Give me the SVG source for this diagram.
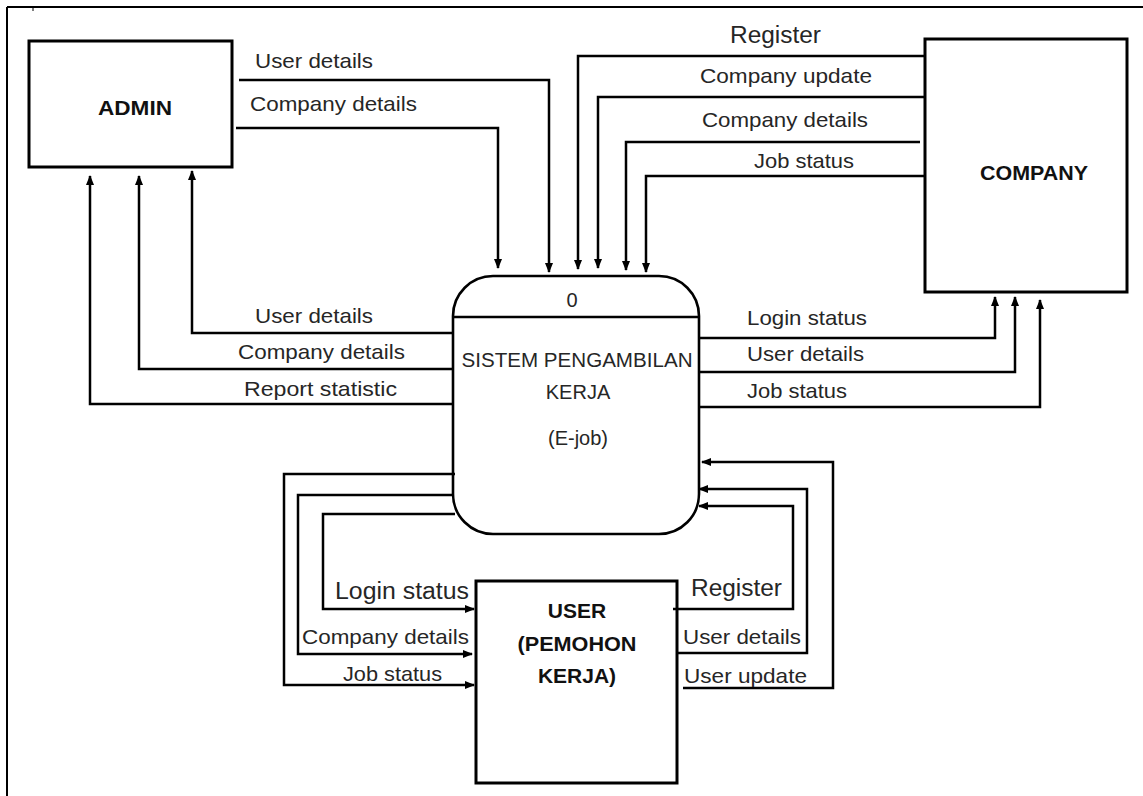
<svg xmlns="http://www.w3.org/2000/svg" width="1143" height="796" viewBox="0 0 1143 796">
<style>
  .box{fill:#fff;stroke:#000;stroke-width:3}
  .proc{fill:#fff;stroke:#000;stroke-width:2.6}
  .frame{fill:none;stroke:#000;stroke-width:2}
  .flow{fill:none;stroke:#000;stroke-width:2.5;marker-end:url(#arr)}
  .flown{fill:none;stroke:#000;stroke-width:2.5}
  .lbl{font-family:"Liberation Sans",Arial,sans-serif;font-size:21px;fill:#262626}
  .lbl-l{font-family:"Liberation Sans",Arial,sans-serif;font-size:23px;fill:#262626}
  .node{font-family:"Liberation Sans",Arial,sans-serif;font-size:21px;font-weight:bold;fill:#111;text-anchor:middle}
  .ptxt{font-family:"Liberation Sans",Arial,sans-serif;font-size:20px;fill:#262626;text-anchor:middle}
</style>
<defs>
  <marker id="arr" viewBox="0 0 10 8" refX="9" refY="4" markerWidth="10" markerHeight="8" markerUnits="userSpaceOnUse" orient="auto">
    <path d="M0,0 L10,4 L0,8 z" fill="#000"/>
  </marker>
</defs>
<rect width="1143" height="796" fill="#fff"/>
<g id="frame">
  <path class="frame" d="M7,7 H1143 M7,7 V796"/>
  <path d="M33,7 V11" stroke="#000" stroke-width="1"/>
</g>
<g id="admin">
  <rect class="box" x="29" y="41" width="203" height="126"/>
  <text class="node" x="135" y="115" textLength="74" lengthAdjust="spacingAndGlyphs">ADMIN</text>
</g>
<g id="company">
  <rect class="box" x="925" y="39" width="202" height="253"/>
  <text class="node" x="1034" y="180" textLength="108" lengthAdjust="spacingAndGlyphs">COMPANY</text>
</g>
<g id="process">
  <rect class="proc" x="453" y="276" width="246" height="258" rx="40" ry="40"/>
  <path d="M453,317 H699" stroke="#000" stroke-width="2.6"/>
  <text class="ptxt" x="572" y="307" font-size="21">0</text>
  <text class="ptxt" x="577" y="367" textLength="231" lengthAdjust="spacingAndGlyphs">SISTEM PENGAMBILAN</text>
  <text class="ptxt" x="578" y="399">KERJA</text>
  <text class="ptxt" x="578" y="445">(E-job)</text>
</g>
<g id="user">
  <rect class="box" x="476" y="581" width="201" height="202"/>
  <text class="node" x="577" y="618">USER</text>
  <text class="node" x="577" y="651" textLength="119" lengthAdjust="spacingAndGlyphs">(PEMOHON</text>
  <text class="node" x="577" y="683">KERJA)</text>
</g>
<g id="connectors">
  <g id="f-admin-user-details">
    <path class="flow" d="M239,80 H549 V272"/>
    <text class="lbl" x="255" y="68" textLength="118" lengthAdjust="spacingAndGlyphs">User details</text>
  </g>
  <g id="f-admin-company-details">
    <path class="flow" d="M236,128 H498 V268"/>
    <text class="lbl" x="250" y="111" textLength="167" lengthAdjust="spacingAndGlyphs">Company details</text>
  </g>
  <g id="f-company-register">
    <path class="flow" d="M925,56 H578 V269"/>
    <text class="lbl-l" x="730" y="43" textLength="91" lengthAdjust="spacingAndGlyphs">Register</text>
  </g>
  <g id="f-company-update">
    <path class="flow" d="M925,97 H598 V268"/>
    <text class="lbl" x="700" y="83" textLength="172" lengthAdjust="spacingAndGlyphs">Company update</text>
  </g>
  <g id="f-company-details">
    <path class="flow" d="M920,142 H626 V270"/>
    <text class="lbl" x="702" y="127" textLength="166" lengthAdjust="spacingAndGlyphs">Company details</text>
  </g>
  <g id="f-company-job-status">
    <path class="flow" d="M925,176 H646 V272"/>
    <text class="lbl" x="754" y="168" textLength="100" lengthAdjust="spacingAndGlyphs">Job status</text>
  </g>
  <g id="f-to-admin-user-details">
    <path class="flow" d="M453,333 H192 V171"/>
    <text class="lbl" x="255" y="323" textLength="118" lengthAdjust="spacingAndGlyphs">User details</text>
  </g>
  <g id="f-to-admin-company-details">
    <path class="flow" d="M453,369 H139 V176"/>
    <text class="lbl" x="238" y="359" textLength="167" lengthAdjust="spacingAndGlyphs">Company details</text>
  </g>
  <g id="f-to-admin-report">
    <path class="flow" d="M453,404 H90 V176"/>
    <text class="lbl" x="244" y="396" textLength="153" lengthAdjust="spacingAndGlyphs">Report statistic</text>
  </g>
  <g id="f-to-company-login">
    <path class="flow" d="M699,338 H995 V297"/>
    <text class="lbl" x="747" y="325" textLength="120" lengthAdjust="spacingAndGlyphs">Login status</text>
  </g>
  <g id="f-to-company-user-details">
    <path class="flow" d="M699,372 H1015 V297"/>
    <text class="lbl" x="747" y="361" textLength="117" lengthAdjust="spacingAndGlyphs">User details</text>
  </g>
  <g id="f-to-company-job-status">
    <path class="flow" d="M699,407 H1040 V300"/>
    <text class="lbl" x="747" y="398" textLength="100" lengthAdjust="spacingAndGlyphs">Job status</text>
  </g>
  <g id="f-to-user-job-status">
    <path class="flow" d="M455,474 H284 V685 H474"/>
    <text class="lbl" x="343" y="681" textLength="99" lengthAdjust="spacingAndGlyphs">Job status</text>
  </g>
  <g id="f-to-user-company-details">
    <path class="flow" d="M453,495 H298 V654 H472"/>
    <text class="lbl" x="302" y="644" textLength="167" lengthAdjust="spacingAndGlyphs">Company details</text>
  </g>
  <g id="f-to-user-login">
    <path class="flow" d="M455,514 H323 V609 H474"/>
    <text class="lbl-l" x="335" y="599" font-size="24" textLength="134" lengthAdjust="spacingAndGlyphs">Login status</text>
  </g>
  <g id="f-user-register">
    <path class="flow" d="M673,609 H793 V506 H699"/>
    <text class="lbl-l" x="691" y="596" textLength="91" lengthAdjust="spacingAndGlyphs">Register</text>
  </g>
  <g id="f-user-details">
    <path class="flow" d="M677,653 H807 V489 H699"/>
    <text class="lbl" x="683" y="644" textLength="118" lengthAdjust="spacingAndGlyphs">User details</text>
  </g>
  <g id="f-user-update">
    <path class="flow" d="M683,688 H833 V462 H702"/>
    <text class="lbl" x="684" y="683" textLength="123" lengthAdjust="spacingAndGlyphs">User update</text>
  </g>
</g>
</svg>
